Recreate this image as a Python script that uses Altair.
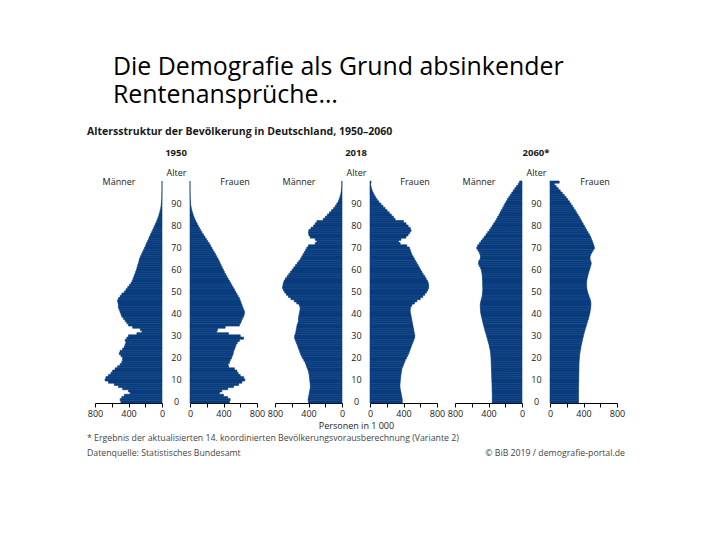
import altair as alt
import pandas as pd

ages = list(range(101))

m1950 = [490,500,480,450,380,400,470,520,570,640,680,670,640,610,590,560,530,500,480,470,
         470,490,510,500,470,450,440,430,440,420,400,300,240,260,350,400,420,440,460,480,
         490,500,510,520,520,525,530,520,500,480,450,430,410,390,370,355,345,335,325,315,
         305,298,290,282,275,268,258,245,232,220,208,196,185,172,160,150,138,125,112,100,
         88,76,64,54,44,36,28,22,16,11,8,5,3,2,1,1,0,0,0,0,0]
f1950 = [470,480,450,400,350,380,450,520,580,620,655,640,600,575,560,530,460,455,470,480,
         495,505,515,520,530,540,550,565,590,640,600,460,320,330,420,590,605,615,625,640,
         648,650,640,630,620,610,600,590,575,560,545,530,515,500,485,470,455,440,425,410,
         398,385,372,360,348,335,320,305,290,275,260,245,230,212,195,178,160,143,128,113,
         98,85,72,60,48,38,30,22,16,11,7,5,3,2,1,1,0,0,0,0,0]
m2018 = [400,405,400,395,390,385,380,378,380,382,385,388,390,395,400,410,420,430,440,455,
         470,485,495,505,515,525,535,545,555,565,565,555,550,545,540,535,525,520,520,515,
         510,505,500,500,510,540,570,610,640,665,685,700,710,705,700,690,675,655,635,615,
         595,575,555,535,515,495,480,465,450,435,420,400,320,300,320,380,395,400,395,370,
         340,320,300,225,200,175,150,125,100,80,62,47,35,26,18,12,8,5,3,2,2]
f2018 = [385,385,380,375,370,365,360,358,358,360,362,365,368,372,376,380,390,400,410,420,
         435,448,460,470,480,490,500,510,520,530,535,530,525,520,515,510,505,500,495,490,
         485,480,480,485,500,530,560,600,630,655,675,690,700,700,695,685,670,655,635,620,
         605,590,575,560,545,530,515,500,490,480,470,440,360,340,370,430,455,475,490,480,
         455,430,400,300,280,255,230,205,180,155,130,105,85,68,52,38,27,18,12,8,12]
m2060 = [355,355,355,355,355,356,357,358,358,359,360,361,362,363,364,365,366,367,368,369,
         370,372,374,378,382,388,394,400,408,415,422,430,438,445,452,460,466,472,478,484,
         490,494,496,498,498,496,490,482,476,472,470,468,468,470,470,470,472,474,476,480,
         485,495,510,520,515,500,495,500,510,525,540,530,510,490,470,450,430,410,390,372,
         355,338,320,305,290,275,262,248,232,218,205,190,175,158,140,122,104,85,65,45,30]
f2060 = [340,340,340,340,340,340,341,341,342,342,343,343,344,344,345,345,346,346,347,348,
         350,353,356,360,364,369,374,380,386,392,398,404,411,419,427,435,443,451,459,466,
         472,478,482,486,488,488,484,476,466,456,448,442,438,436,436,438,442,448,455,462,
         470,478,486,492,486,478,478,486,500,515,530,525,515,505,495,485,470,455,440,425,
         410,395,380,365,350,335,318,302,285,268,250,232,212,192,170,146,122,98,74,52,110]

years = ["1950", "2018", "2060*"]
men = [m1950, m2018, m2060]
women = [f1950, f2018, f2060]

chart_title = "Altersstruktur der Bevölkerung in Deutschland, 1950–2060"
footnote = "* Ergebnis der aktualisierten 14. koordinierten Bevölkerungsvorausberechnung (Variante 2)"
source = "Datenquelle: Statistisches Bundesamt"
copyright_ = "© BiB 2019 / demografie-portal.de"

BLUE = "#0a3d7e"
TXT = "#1a1a1a"
GREY = "#444444"
FONT = "Open Sans"
PW, PH = 67, 222
GAP = 10  # extra room on the women's side so the centre gap is wider

tick_vals = [0, 200, 400, 600, 800]
lab_expr = "datum.value % 400 == 0 ? datum.label : ''"


def x_axis(title=None):
    kw = dict(values=tick_vals, labelExpr=lab_expr, grid=False, domainColor="#000",
              tickColor="#000", tickSize=4, labelFontSize=9, labelColor=TXT,
              labelPadding=2, labelFlush=False)
    if title:
        kw.update(title=title, titleX=PW + 14, titleAlign="center", titleFontSize=9,
                  titleFontWeight="normal", titleColor=TXT, titlePadding=3)
    else:
        kw.update(title=None)
    return alt.Axis(**kw)


def text_layer(txt, x, y, size=9, weight="normal", align="center", color=TXT):
    return alt.Chart(pd.DataFrame({"t": [txt]})).mark_text(
        fontSize=size, fontWeight=weight, color=color, baseline="middle", align=align
    ).encode(text="t:N", x=alt.value(x), y=alt.value(y))


def panel(values, male, year=None, axis_title=None, extras=()):
    df = pd.DataFrame({"age": ages, "value": values})
    if male:
        xscale = alt.Scale(domain=[0, 800], reverse=True, nice=False)
        yaxis = None
    else:
        xscale = alt.Scale(domain=[0, 800], range=[GAP, PW + GAP], nice=False)
        yaxis = alt.Axis(
            orient="left", values=list(range(0, 101, 10)),
            labelExpr="datum.value == 100 ? '≥ 100' : datum.label",
            domain=False, ticks=False, labelAlign="center", labelPadding=14 - GAP,
            labelFontSize=9, labelColor=TXT, labelBaseline="middle",
            title="Alter", titleAngle=0, titleX=GAP - 14, titleY=-9,
            titleAlign="center", titleBaseline="middle", titleFontSize=9,
            titleFontWeight="normal", titleColor=TXT)
    bars = alt.Chart(df).mark_bar(color=BLUE, stroke=BLUE, strokeWidth=0.6).encode(
        x=alt.X("value:Q", scale=xscale, axis=x_axis(axis_title)),
        y=alt.Y("age:O", sort="descending",
                scale=alt.Scale(paddingInner=0, paddingOuter=0), axis=yaxis),
    )
    layers = [bars]
    if male:
        layers.append(text_layer("Männer", 24, 1))
    else:
        layers.append(text_layer("Frauen", GAP + 45, 1))
        layers.append(text_layer(year, GAP - 14, -28, size=9.5, weight="bold"))
    layers.extend(extras)
    w = PW if male else PW + GAP
    return alt.layer(*layers).properties(width=w, height=PH)


panels = []
for i, yr in enumerate(years):
    extras = ()
    if i == 0:
        extras = (
            text_layer(chart_title, -8, -49, size=10.5, weight="bold", align="left"),
            text_layer(footnote, -8, 257, size=8.75, align="left", color=GREY),
            text_layer(source, -8, 272, size=8.75, align="left", color=GREY),
            text_layer(copyright_, 530, 272, size=8.75, align="right", color=GREY),
        )
    panels.append(panel(men[i], True, axis_title="Personen in 1 000" if i == 1 else None,
                        extras=extras))
    panels.append(panel(women[i], False, year=yr))

chart = alt.hconcat(*panels, spacing=18, bounds="flush").properties(
    title=alt.TitleParams(["Die Demografie als Grund absinkender", "Rentenansprüche…"],
                          fontSize=24.9, fontWeight="normal", anchor="start", color="#000",
                          dx=26, lineHeight=28, offset=19, font=FONT),
    padding={"left": 79, "top": 47, "right": 80, "bottom": 60},
    background="white",
).configure(font=FONT).configure_view(stroke=None, strokeWidth=0)

chart.save("out.html", embed_options={"renderer": "svg", "actions": False})
